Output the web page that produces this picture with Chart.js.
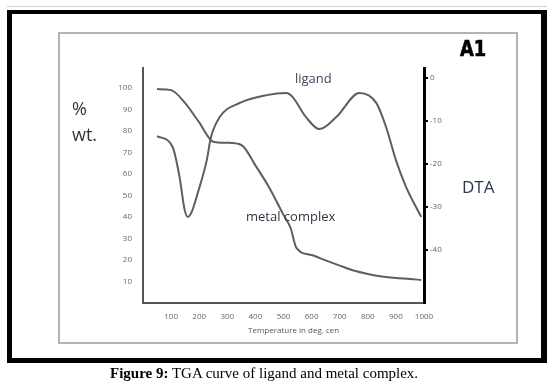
<!DOCTYPE html>
<html>
<head>
<meta charset="utf-8">
<script src="https://cdn.jsdelivr.net/npm/chart.js@4"></script>
<style>
  body { margin: 0; width: 557px; height: 387px; background: #fff; position: relative; overflow: hidden; }
  .abs { position: absolute; white-space: nowrap; line-height: 1; }
  #topline { left: 7px; top: 6px; width: 540px; height: 1px; background: #cfcfcf; }
  #outer { left: 7px; top: 10px; width: 540px; height: 353px; box-sizing: border-box;
           border: 5px solid #000; border-top-width: 4px; border-right-width: 6px; }
  #inner { left: 58px; top: 32px; width: 460px; height: 312px; box-sizing: border-box; border: 2px solid #b4b4b4; }
  #myChart { position: absolute; left: 0; top: 0; }
  .lbl { font-family: 'Open Sans', sans-serif; }
</style>
</head>
<body>
<div class="abs" id="topline"></div>
<div class="abs" id="outer"></div>
<div class="abs" id="inner"></div>
<canvas id="myChart" width="557" height="387"></canvas>

<div class="abs lbl" style="left:72px; top:99px; font-size:18px; color:#3a3330;">%</div>
<div class="abs lbl" style="left:72px; top:125px; font-size:18px; color:#3a3330;">wt.</div>
<div class="abs lbl" style="left:295px; top:72px; font-size:13px; color:#4a3d5c;">ligand</div>
<div class="abs lbl" style="left:246px; top:210px; font-size:13px; color:#2f3440;">metal complex</div>
<div class="abs lbl" style="left:462px; top:178px; font-size:17px; color:#2b3a4f;">DTA</div>
<div class="abs" style="left:460px; top:38px; font-size:22px; font-weight:bold; font-family:'DejaVu Sans Condensed','DejaVu Sans',sans-serif; color:#000; -webkit-text-stroke:0.6px #000; transform:scaleX(0.9); transform-origin:left top;">A1</div>
<div class="abs lbl" style="left:248px; top:326px; font-size:8px; color:#555;">Temperature in deg. cen</div>
<div class="abs" style="left:110px; top:366px; font-size:15px; font-family:'Liberation Serif',serif; color:#000;"><b>Figure 9:</b> TGA curve of ligand and metal complex.</div>

<script>
const tempTicks = [100, 200, 300, 400, 500, 600, 700, 800, 900, 1000];
const pctTicks = [10, 20, 30, 40, 50, 60, 70, 80, 90, 100];
const dtaTicks = [0, -10, -20, -30, -40];

// TGA (% wt.)
const tgaTemp = [50, 100, 150, 200, 250, 300, 350, 400, 450, 500, 525, 546, 600, 650, 700, 750, 800, 850, 900, 950, 990];
const tgaWt = [99.5, 99, 93, 84, 75, 74.5, 73.5, 64, 53.5, 41, 35, 25.6, 22.3, 19.8, 17.4, 15.1, 13.5, 12.3, 11.6, 11.2, 10.7];

// DTA
const dtaTemp = [50, 105, 130, 148, 160, 173, 195, 227, 241, 273, 345, 440, 510, 532, 580, 628, 688, 770, 830, 865, 900, 936, 990];
const dtaVal = [-13.5, -16, -23, -30.6, -32.3, -31.2, -26.7, -19.1, -14, -9.1, -5.8, -4, -3.5, -4.4, -9.1, -11.9, -9.1, -3.5, -5.8, -11.4, -19.1, -25.3, -32.3];

const toPoints = (xs, ys) => xs.map((x, i) => ({ x: x, y: ys[i] }));
const fixTicks = (vals) => (scale) => { scale.ticks = vals.map(v => ({ value: v })); };
const plain = (v) => String(v);
const tickFont = { size: 8, family: "'Open Sans', sans-serif" };

const ctx = document.getElementById('myChart');

new Chart(ctx, {
    type: 'line',
    data: {
        datasets: [{
            label: 'TGA',
            data: toPoints(tgaTemp, tgaWt),
            yAxisID: 'y',
            borderColor: '#5e5e5e',
            borderWidth: 2,
            pointRadius: 0,
            cubicInterpolationMode: 'monotone'
        }, {
            label: 'DTA',
            data: toPoints(dtaTemp, dtaVal),
            yAxisID: 'y1',
            borderColor: '#5e5e5e',
            borderWidth: 2,
            pointRadius: 0,
            cubicInterpolationMode: 'monotone'
        }]
    },
    options: {
        responsive: false,
        animation: false,
        devicePixelRatio: 1,
        layout: { padding: { left: 0, top: 68, right: 0, bottom: 0 } },
        plugins: { legend: { display: false }, tooltip: { enabled: false } },
        scales: {
            x: {
                type: 'linear',
                min: 0,
                max: 1000,
                afterBuildTicks: fixTicks(tempTicks),
                afterFit: (scale) => { scale.height = 84; },
                grid: { display: false },
                border: { color: '#555', width: 2 },
                ticks: { font: tickFont, color: '#666', padding: 1, maxRotation: 0, autoSkip: false, callback: plain }
            },
            y: {
                position: 'left',
                min: 0,
                max: 109.3,
                afterBuildTicks: fixTicks(pctTicks),
                afterFit: (scale) => { scale.width = 143; },
                grid: { display: false },
                border: { color: '#555', width: 2 },
                ticks: { font: tickFont, color: '#666', padding: 3, autoSkip: false, callback: plain }
            },
            y1: {
                position: 'right',
                min: -52.3,
                max: 2.3,
                afterBuildTicks: fixTicks(dtaTicks),
                afterFit: (scale) => { scale.width = 133; },
                grid: { display: true, drawOnChartArea: false, drawTicks: true, tickLength: 4, color: '#000', lineWidth: 2 },
                border: { color: '#000', width: 3 },
                ticks: { font: tickFont, color: '#666', padding: 2, autoSkip: false, callback: plain }
            }
        }
    }
});
</script>
</body>
</html>
